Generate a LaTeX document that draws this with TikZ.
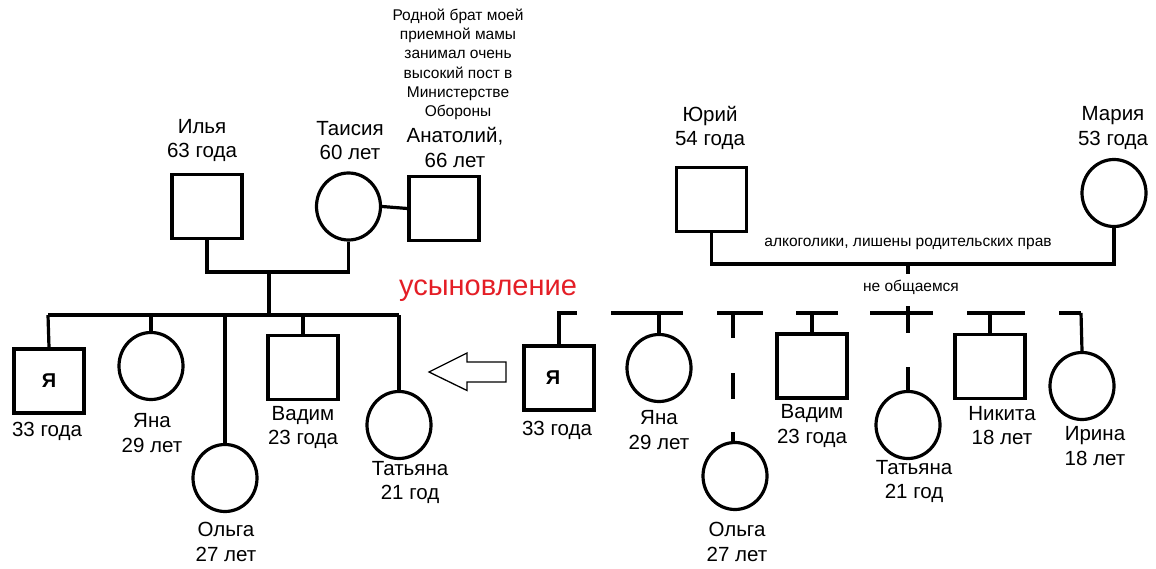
\documentclass[tikz,border=0pt]{standalone}
\usepackage{fontspec}
\setmainfont{Liberation Sans}
\usetikzlibrary{shapes.geometric}
\definecolor{adoptred}{RGB}{228,30,38}
\tikzset{
  sq/.style={draw, line width=3.2pt, minimum width=70pt, minimum height=64pt, inner sep=0pt},
  ci/.style={draw, ellipse, line width=3.2pt, minimum width=64pt, minimum height=67pt, inner sep=0pt},
  lbl/.style={align=center, inner sep=0pt, font=\fontsize{20.5}{24.5}\selectfont},
  small/.style={align=center, inner sep=0pt, font=\fontsize{15.5}{19.3}\selectfont},
  ln/.style={line width=3.2pt},
  me/.style={font=\fontsize{20}{22}\selectfont\bfseries}
}
\begin{document}
\begin{tikzpicture}[x=1pt,y=-1pt]
\useasboundingbox (0,0) rectangle (1156,569);
% ---------- adoptive family ----------
\node[sq] (ilya) at (207,206.5) {};
\node[ci] (taisia) at (348.5,206.5) {};
\node[sq] (anat) at (444,208.5) {};
\node[lbl] (ilyaL) at (202,140.5) {Илья\\63 года};
\node[lbl] (taisiaL) at (350,140.5) {Таисия\\60 лет};
\node[lbl] (anatL) at (455,147.5) {Анатолий,\\66 лет};
\node[small] (note) at (458,64.5) {Родной брат моей\\приемной мамы\\занимал очень\\высокий пост в\\Министерстве\\Обороны};
\draw[ln] (taisia.east) -- (anat.west);
\coordinate (lpar) at (269,272);
\draw[ln] (ilya.south) |- (lpar) -| (taisia.south);
\coordinate (lbus) at (269,315);
\draw[ln] (lpar) -- (lbus);
\coordinate (lbusL) at (48,315);
\coordinate (lbusR) at (399,315);
\draw[ln] (lbusL) -- (lbusR);

\node[sq] (meL) at (49,381) {};
\node[me] at (meL.center) {Я};
\node[ci] (yanaL) at (151,366) {};
\node[ci] (olgaL) at (225,478) {};
\node[sq] (vadimL) at (303,367.5) {};
\node[ci] (tanyaL) at (399,425) {};
\draw[ln] (lbusL) -- (meL.north);
\draw[ln] (yanaL.north |- lbusL) -- (yanaL.north);
\draw[ln] (olgaL.north |- lbusL) -- (olgaL.north);
\draw[ln] (vadimL.north |- lbusL) -- (vadimL.north);
\draw[ln] (lbusR) -- (tanyaL.north);

\node[lbl] (meLa) at (47,431) {33 года};
\node[lbl] (yanaLa) at (152,433) {Яна\\29 лет};
\node[lbl] (olgaLa) at (226,542) {Ольга\\27 лет};
\node[lbl] (vadimLa) at (303,427.5) {Вадим\\23 года};
\node[lbl] (tanyaLa) at (410,482.5) {Татьяна\\21 год};

% ---------- adoption ----------
\node[align=center, inner sep=0pt, text=adoptred, font=\fontsize{29}{31}\selectfont] (adopt) at (488,291) {усыновление};
\draw[line width=1.3pt, line join=miter] (506,362) -- (467,362) -- (467,353) -- (429,372) -- (467,390.5) -- (467,382) -- (506,382) -- cycle;

% ---------- biological family ----------
\node[sq] (yuri) at (711.5,199.5) {};
\node[ci] (maria) at (1114,193) {};
\node[lbl] (yuriL) at (710,128) {Юрий\\54 года};
\node[lbl] (mariaL) at (1113,128) {Мария\\53 года};
\coordinate (rpar) at (908,264);
\draw[ln] (yuri.south) |- (rpar) -| (maria.south);
\node[small] (alco) at (908,244) {алкоголики, лишены родительских прав};
\coordinate (rtick) at (908,274);
\draw[ln] (rpar) -- (rtick);
\node[small] (noc) at (911,287) {не общаемся};

\node[sq] (meR) at (559,378) {};
\node[me] at (553,378) {Я};
\node[ci] (yanaR) at (659,368) {};
\node[ci] (olgaR) at (735,476) {};
\node[sq] (vadimR) at (812,366) {};
\node[ci] (tanyaR) at (908,425) {};
\node[sq] (nikR) at (990,366.5) {};
\node[ci] (irinaR) at (1082,386) {};

% dashed sibling line (broken segments)
\foreach \a/\b in {557/577, 611/683, 717/763, 796/838, 870/933, 967/1025, 1059/1081}
  \draw[ln] (\a,313) -- (\b,313);
\draw[ln] (meR.north |- 0,313) -- (meR.north);
\draw[ln] (yanaR.north |- 0,313) -- (yanaR.north);
\draw[ln] (vadimR.north |- 0,313) -- (vadimR.north);
\draw[ln] (nikR.north |- 0,313) -- (nikR.north);
\draw[ln] (1081,313) -- (irinaR.north);
% Olga: dashed descent
\draw[ln] (733,313) -- (733,338);
\draw[ln] (733,373) -- (733,399);
\draw[ln] (733,432) -- (olgaR.north -| 733,0);
% Tatiana: dashed descent through the "не общаемся" line
\draw[ln] (908,306) -- (908,333);
\draw[ln] (908,367) -- (tanyaR.north);

\node[lbl] (meRa) at (557,430) {33 года};
\node[lbl] (yanaRa) at (659,430) {Яна\\29 лет};
\node[lbl] (olgaRa) at (737,542) {Ольга\\27 лет};
\node[lbl] (vadimRa) at (812,426) {Вадим\\23 года};
\node[lbl] (tanyaRa) at (914,481.5) {Татьяна\\21 год};
\node[lbl] (nikRa) at (1002,425.5) {Никита\\18 лет};
\node[lbl] (irinaRa) at (1095,446) {Ирина\\18 лет};
\end{tikzpicture}
\end{document}
